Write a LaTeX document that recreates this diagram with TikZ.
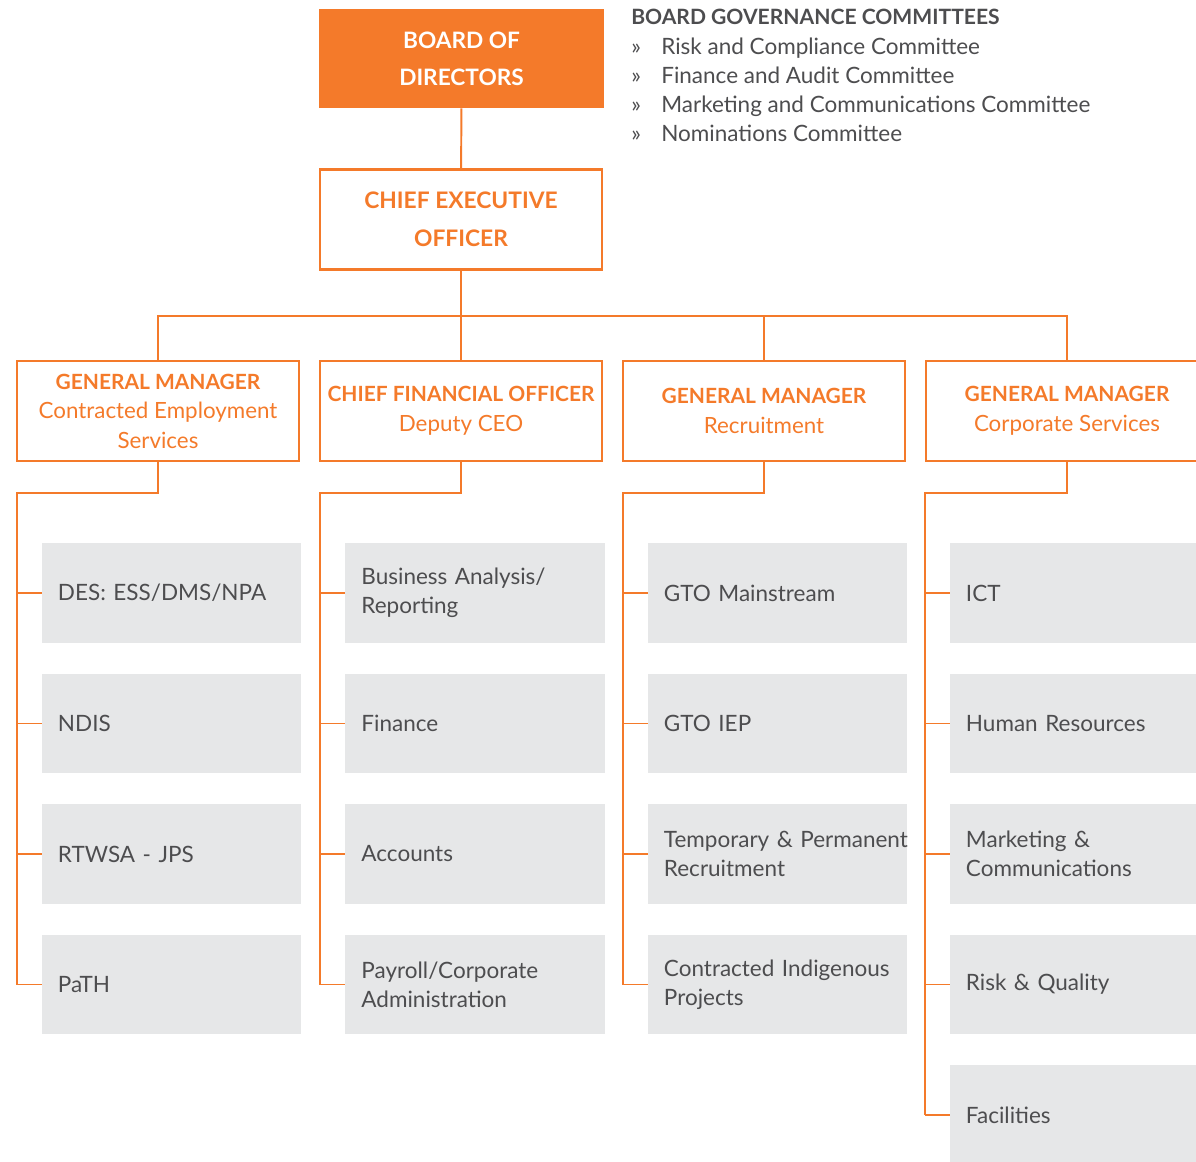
\documentclass[tikz,border=0pt]{standalone}
\usepackage{fontspec}
\setmainfont{Lato}
\usetikzlibrary{positioning}

\definecolor{brandorange}{HTML}{F47A2A}
\definecolor{unitgrey}{HTML}{E6E7E8}
\definecolor{inkgrey}{HTML}{4D4D4F}

\newcommand{\boxtitle}[1]{{\bfseries\fontsize{14.9}{21}\selectfont #1}}

\begin{document}
\begin{tikzpicture}[x=0.025cm,y=-0.025cm,
  headbox/.style={draw=brandorange,line width=1.8pt,align=center,inner sep=0pt,
    minimum width=7.05cm,minimum height=2.5cm,text=brandorange,
    font=\fontsize{15.9}{21}\selectfont},
  unitbox/.style={fill=unitgrey,text=inkgrey,align=left,inner xsep=0.4cm,inner ysep=0pt,
    text width=5.675cm,minimum height=2.475cm,
    font=\fontsize{16}{20.6}\selectfont},
  link/.style={draw=brandorange,line width=1.4pt}]
\useasboundingbox (0,0) rectangle (1196,1162);
\clip (0,0) rectangle (1196,1162);

% board and committees
\node[fill=brandorange,text=white,align=center,inner sep=0pt,minimum width=7.125cm,minimum height=2.475cm,
  font=\bfseries\fontsize{16.1}{26.2}\selectfont] (board) at (461.5,58.5) {BOARD OF\\DIRECTORS};
\node[anchor=base west,inner sep=0pt,text=inkgrey,font=\bfseries\fontsize{15}{20}\selectfont] (gov) at (631,24.5)
  {BOARD GOVERNANCE COMMITTEES};
\foreach \i/\y/\name in {1/54.5/Risk and Compliance Committee,
                         2/83.5/Finance and Audit Committee,
                         3/112.5/Marketing and Communications Committee,
                         4/141.5/Nominations Committee}
  \node[anchor=base west,inner sep=0pt,text=inkgrey,font=\fontsize{16}{20}\selectfont] (com\i) at (631,\y)
    {\makebox[0.75cm][l]{»}\name};

% executive
\node[headbox,font=\bfseries\fontsize{16.2}{26.9}\selectfont] (ceo) at (461,219.5) {CHIEF EXECUTIVE\\OFFICER};
\draw[link] (board) -- (ceo);

% management line
\node[headbox] (gmces) at (158,411) {\boxtitle{GENERAL MANAGER}\\Contracted Employment\\Services};
\node[headbox] (cfo) at (461,411) {\boxtitle{CHIEF FINANCIAL OFFICER}\\Deputy CEO};
\node[headbox] (gmrec) at (764,411) {\boxtitle{GENERAL MANAGER}\\Recruitment};
\node[headbox] (gmcorp) at (1067,411) {\boxtitle{GENERAL MANAGER}\\Corporate Services};

\coordinate (bus) at (461,316);
\draw[link] (ceo) -- (cfo);
\draw[link] (gmces.north) |- (bus) -| (gmcorp.north);
\draw[link] (gmrec.north) -- (gmrec.north |- bus);

% units under each manager
\foreach \col/\boss/\sx/\ux/\last/\units in {
    a/gmces/17/171.5/4/{DES: ESS/DMS/NPA,NDIS,RTWSA - JPS,PaTH},
    b/cfo/320/475/4/{Business Analysis/\\Reporting,Finance,Accounts,Payroll/Corporate\\Administration},
    c/gmrec/623/777.5/4/{GTO Mainstream,GTO IEP,\mbox{Temporary \& Permanent}\\Recruitment,Contracted Indigenous\\Projects},
    d/gmcorp/925/1079.5/5/{ICT,Human Resources,Marketing \&\\Communications,Risk \& Quality,Facilities}} {
  \coordinate (spine\col) at (\sx,493);
  \foreach \u [count=\k] in \units {
    \node[unitbox] (\col\k) at (\ux,462.5+130.5*\k) {\u};
    \draw[link] (spine\col |- \col\k.west) -- (\col\k.west);
  }
  \draw[link] (\boss.south) |- (spine\col) -- (spine\col |- \col\last.west);
}
\end{tikzpicture}
\end{document}
